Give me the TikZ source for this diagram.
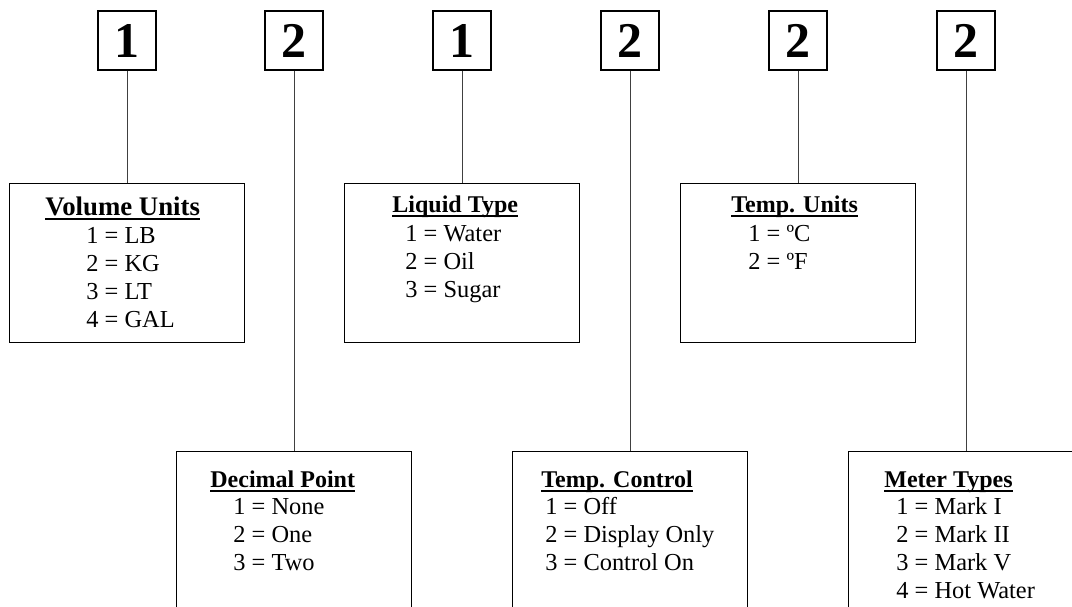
\documentclass[tikz,border=0pt]{standalone}
\usepackage{fontspec}
\setmainfont{Liberation Serif}
\usepackage{tikz}
\usetikzlibrary{positioning}

\tikzset{
    digitbox/.style={draw, line width=0.6pt, minimum width=29pt, minimum height=29.5pt, inner sep=0pt, font=\fontsize{25}{25}\selectfont\bfseries},
    optbox/.style={draw, line width=0.6pt, minimum width=117.5pt, anchor=north, inner sep=0pt},
    ttl/.style={anchor=base west, inner sep=0pt, font=\fontsize{12}{15}\selectfont\bfseries},
    entry/.style={anchor=base west, inner sep=0pt, font=\fontsize{12.2}{14}\selectfont},
    uline/.style={line width=1pt},
    link/.style={line width=0.5pt, draw=black!75},
}

\begin{document}
\begin{tikzpicture}[x=0.5pt, y=-0.5pt]
            \useasboundingbox (0,0) rectangle (1072,606);
            \clip (0,0) rectangle (1072,606);
            \foreach \d/\x [count=\i] in {1/127, 2/294, 1/462, 2/630, 2/798, 2/966} {
                \node[digitbox] (d\i) at (\x, 40.5) {\d};
            }
            \node[optbox, minimum height=79.5pt] (vu) at (127, 183) {};
            \node[optbox, minimum height=79.5pt] (lt) at (462, 183) {};
            \node[optbox, minimum height=79.5pt] (tu) at (798, 183) {};
            \node[optbox, minimum height=100pt] (dp) at (294, 451) {};
            \node[optbox, minimum height=100pt] (tc) at (630, 451) {};
            \node[optbox, minimum height=100pt] (mt) at (966, 451) {};
            \node[ttl, font=\fontsize{13.4}{15}\selectfont\bfseries] (vu-t) at (45, 215) {Volume Units};
            \node[ttl] (lt-t) at (392, 212) {Liquid Type};
            \node[ttl] (tu-t) at (731, 212) {Temp. Units};
            \node[ttl] (dp-t) at (210, 487) {Decimal Point};
            \node[ttl] (tc-t) at (541, 487) {Temp. Control};
            \node[ttl] (mt-t) at (884, 487) {Meter Types};
            \foreach \n in {vu, lt, tu, dp, tc, mt} {
                \draw[uline] ([yshift=-1.8pt]\n-t.base west) -- ([yshift=-1.8pt]\n-t.base east);
            }
            \foreach \t [count=\i] in {1 = LB, 2 = KG, 3 = LT, 4 = GAL} {
                \node[entry] (vu-\i) at (86, 215+28*\i) {\t};
            }
            \foreach \t [count=\i] in {1 = Water, 2 = Oil, 3 = Sugar} {
                \node[entry] (lt-\i) at (405, 213+28*\i) {\t};
            }
            \foreach \t [count=\i] in {1 = ºC, 2 = ºF} {
                \node[entry] (tu-\i) at (748, 213+28*\i) {\t};
            }
            \foreach \t [count=\i] in {1 = None, 2 = One, 3 = Two} {
                \node[entry] (dp-\i) at (233, 486+28*\i) {\t};
            }
            \foreach \t [count=\i] in {1 = Off, 2 = Display Only, 3 = Control On} {
                \node[entry] (tc-\i) at (545, 486+28*\i) {\t};
            }
            \foreach \t [count=\i] in {1 = Mark I, 2 = Mark II, 3 = Mark V, 4 = Hot Water} {
                \node[entry] (mt-\i) at (896, 486+28*\i) {\t};
            }
            \foreach \i/\n in {1/vu, 2/dp, 3/lt, 4/tc, 5/tu, 6/mt} {
                \draw[link] (d\i.south) -- (\n.north);
            }
\end{tikzpicture}
\end{document}
